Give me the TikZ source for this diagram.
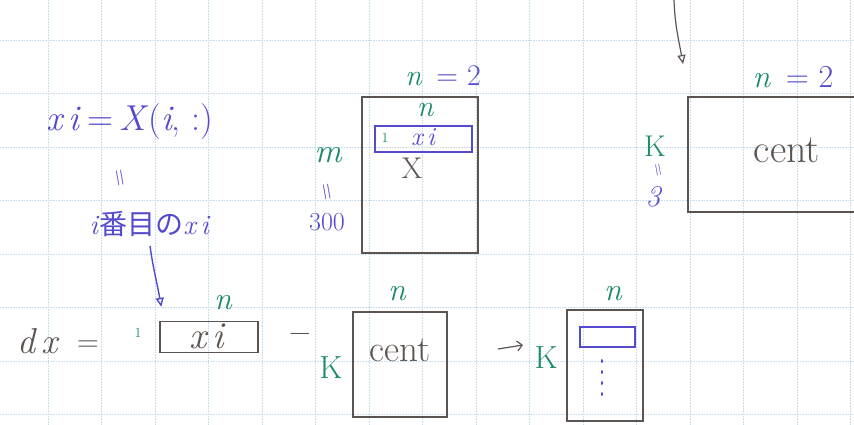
\documentclass[tikz,border=0pt]{standalone}
\usepackage{fontspec}
\newfontfamily\jpfont{Noto Sans CJK JP}
\usetikzlibrary{arrows.meta,positioning}

\definecolor{ink}{RGB}{92,84,80}
\definecolor{bink}{RGB}{84,74,206}
\definecolor{gink}{RGB}{28,138,110}
\definecolor{gridc}{RGB}{196,222,240}

\begin{document}
\begin{tikzpicture}[
    x=1pt, y=-1pt,
    gridline/.style={gridc, densely dotted, line width=0.6pt},
    matbox/.style={rectangle, draw=ink, line width=1.4pt, inner sep=0pt},
    rowbox/.style={rectangle, draw=bink, line width=2pt, inner sep=0pt},
    btext/.style={text=bink, inner sep=1pt},
    gtext/.style={text=gink, inner sep=1pt},
    itext/.style={text=ink, inner sep=1pt},
    eqmark/.style={text=bink, rotate=-80, inner sep=0pt, font=\fontsize{24}{24}\selectfont},
    barrow/.style={draw=bink, line width=1.4pt, -{Triangle[open, length=9pt, width=8pt]}},
    iarrow/.style={draw=ink, line width=1.2pt, -{Triangle[open, length=9pt, width=8pt]}}
  ]
  \useasboundingbox (0,0) rectangle (854,425);
  \clip (0,0) rectangle (854,425);
  \fill[white] (0,0) rectangle (854,425);
  % grid
  \foreach \k in {0,...,15} {\draw[gridline] ({48+53.5*\k},0) -- ({48+53.5*\k},425);}
  \foreach \k in {0,...,7} {\draw[gridline] (0,{40+53.5*\k}) -- (854,{40+53.5*\k});}

  % definition of xi
  \node[btext, font=\fontsize{36}{38}\selectfont] (xieq) at (130,122) {\textit{x\,i}\,=\,\textit{X}(\textit{i}, :)};
  \node[eqmark] (eqmark1) at (118,178) {=};
  \node[btext, font=\fontsize{28}{30}\selectfont] (ith) at (150,224) {\textit{i}{\jpfont 番目の}\textit{x\,i}};

  % data matrix X
  \node[matbox, minimum width=116pt, minimum height=156pt] (Xmat) at (420,175) {};
  \node[rowbox, minimum width=97pt, minimum height=26pt] (Xrow) at (423.5,139) {};
  \node[font=\fontsize{30}{32}\selectfont, inner sep=1pt] (nX) at (443,76) {\textcolor{gink}{\textit{n}}\, \textcolor{bink}{= 2}};
  \node[gtext, font=\fontsize{30}{30}\selectfont\itshape] (nXin) at (425,110) {n};
  \node[gtext, font=\fontsize{14}{14}\selectfont] (oneX) at (385,138) {1};
  \node[btext, font=\fontsize{26}{26}\selectfont\itshape] (xiX) at (423,137) {x\,i};
  \node[itext, font=\fontsize{30}{30}\selectfont] (Xlbl) at (412,168) {X};
  \node[gtext, font=\fontsize{34}{34}\selectfont\itshape] (mlbl) at (328,155) {m};
  \node[eqmark] (eqmark2) at (325,192) {=};
  \node[btext, font=\fontsize{26}{26}\selectfont] (mval) at (327,222) {300};

  % centroids
  \coordinate (topin) at (674,0);
  \coordinate (toptip) at (683,64);
  \draw[iarrow] (topin) to[out=-88, in=100] (toptip);
  \node[matbox, minimum width=190pt, minimum height=115pt] (centTop) at (783,154.5) {};
  \node[itext, font=\fontsize{40}{40}\selectfont] (centTopLbl) at (787,150) {cent};
  \node[font=\fontsize{32}{32}\selectfont, inner sep=1pt] (nTop) at (793,77) {\textcolor{gink}{\textit{n}}\, \textcolor{bink}{= 2}};
  \node[gtext, font=\fontsize{30}{30}\selectfont] (kTop) at (655,146) {K};
  \node[eqmark, font=\fontsize{18}{18}\selectfont] (eqmark3) at (657,170) {=};
  \node[btext, font=\fontsize{30}{30}\selectfont\itshape] (kval) at (653,197) {3};

  % dx = xi - cent
  \node[itext, font=\fontsize{36}{36}\selectfont\itshape] (dx) at (38,341) {d\,x};
  \node[itext, font=\fontsize{30}{30}\selectfont] (eqsign) at (88,346) {=};
  \node[gtext, font=\fontsize{14}{14}\selectfont] (oneRow) at (138,333) {1};
  \node[matbox, minimum width=98pt, minimum height=31pt] (xirow) at (209,337) {};
  \node[itext, font=\fontsize{38}{38}\selectfont\itshape] (xiRowLbl) at (207,336) {x\,i};
  \node[gtext, font=\fontsize{32}{32}\selectfont\itshape] (nRow) at (223,303) {n};
  \draw[barrow] ([yshift=-8pt]ith.south) to[out=-82, in=100] ([xshift=2pt, yshift=14pt]xirow.north west);
  \node[itext, font=\fontsize{30}{30}\selectfont] (minus) at (300,337) {−};
  \node[matbox, minimum width=94pt, minimum height=105pt] (cent) at (400,364.5) {};
  \node[itext, font=\fontsize{37}{37}\selectfont] (centLbl) at (400,350) {cent};
  \node[gtext, font=\fontsize{32}{32}\selectfont\itshape] (nCent) at (397,294) {n};
  \node[gtext, font=\fontsize{32}{32}\selectfont] (kCent) at (331,368) {K};

  % result
  \coordinate (arrfrom) at (498,349);
  \coordinate (arrto) at (523,345);
  \draw[ink, line width=1.2pt, -{Straight Barb[length=5pt]}] (arrfrom) -- (arrto);
  \node[gtext, font=\fontsize{32}{32}\selectfont] (kRes) at (546,358) {K};
  \node[matbox, minimum width=76pt, minimum height=111pt] (res) at (605,365.5) {};
  \node[rowbox, minimum width=55pt, minimum height=20pt] (resRow) at (607.5,336.5) {};
  \node[gtext, font=\fontsize{32}{32}\selectfont\itshape] (nRes) at (613,294) {n};
  \draw[bink, line width=2pt, dash pattern=on 2pt off 9pt, line cap=round] (602,360) -- (602,400);
\end{tikzpicture}
\end{document}
